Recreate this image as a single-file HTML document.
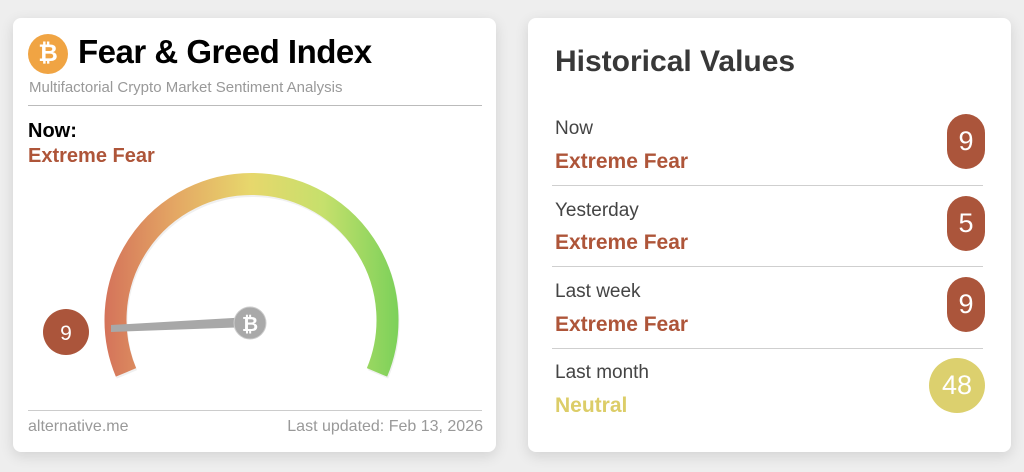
<!DOCTYPE html>
<html><head><meta charset="utf-8"><style>
*{margin:0;padding:0;box-sizing:border-box}
body{width:1024px;height:472px;background:#eeeeee;font-family:"Liberation Sans",sans-serif;position:relative;overflow:hidden}
.card{position:absolute;top:18px;height:434px;width:483px;background:#fff;border-radius:8px;box-shadow:0 4px 14px rgba(0,0,0,.12)}
.a{position:absolute;white-space:nowrap}
.pill{position:absolute;background:#ab553b;color:#fff;border-radius:19px;width:38px;height:55px;font-size:27px;text-align:center;line-height:55px}
.lab{font-size:19px;color:#444}
.val{font-size:21px;font-weight:bold;color:#ae5539}
.hr{position:absolute;height:1px;background:#cfcfcf}
</style></head><body>
<div class="card" style="left:13px">
  <div class="a" style="left:15px;top:16px;width:40px;height:40px;border-radius:50%;background:#f0a443;color:#fff;font-size:24px;font-weight:bold;text-align:center;line-height:40px">₿</div>
  <div class="a" style="left:65px;top:15px;font-size:33px;font-weight:bold;color:#000;letter-spacing:-0.5px">Fear &amp; Greed Index</div>
  <div class="a" style="left:16px;top:61px;font-size:15px;color:#999">Multifactorial Crypto Market Sentiment Analysis</div>
  <div class="hr" style="left:15px;top:87px;width:454px;background:#bbb"></div>
  <div class="a" style="left:15px;top:102px;font-size:20px;font-weight:bold;color:#000">Now:</div>
  <div class="a" style="left:15px;top:127px;font-size:20px;font-weight:bold;color:#ae5539">Extreme Fear</div>
  <div class="hr" style="left:15px;top:392px;width:454px;background:#ccc"></div>
  <div class="a" style="left:15px;top:400px;font-size:16px;color:#999">alternative.me</div>
  <div class="a" style="right:13px;top:400px;font-size:16px;color:#999">Last updated: Feb 13, 2026</div>
</div>
<svg class="a" style="left:0;top:0" width="512" height="472">
  <defs>
    <linearGradient id="g" x1="103" y1="0" x2="397" y2="0" gradientUnits="userSpaceOnUse">
      <stop offset="0" stop-color="#d4725a"/>
      <stop offset="0.25" stop-color="#e4a864"/>
      <stop offset="0.5" stop-color="#e7d76c"/>
      <stop offset="0.75" stop-color="#c6e06c"/>
      <stop offset="1" stop-color="#7dd15a"/>
    </linearGradient>
  </defs>
  <path d="M 126.0 372.4 A 136 136 0 1 1 377.0 372.4" fill="none" stroke="#000" stroke-opacity="0.06" stroke-width="22" transform="translate(1,2)"/>
  <path d="M 126.0 372.4 A 136 136 0 1 1 377.0 372.4" fill="none" stroke="url(#g)" stroke-width="22"/>
  <polygon points="111,325 250,317 250,327 111,332" fill="#a8a8a8"/>
  <circle cx="250" cy="323" r="16" fill="#a9a9a9" stroke="#ccc" stroke-width="1"/>
  <text x="250" y="331" text-anchor="middle" font-family="Liberation Sans" font-weight="bold" font-size="20" fill="#fff">₿</text>
  <circle cx="66" cy="332" r="23" fill="#ab553b"/>
  <text x="66" y="340" text-anchor="middle" font-family="Liberation Sans" font-size="21" fill="#fff">9</text>
</svg>
<div class="card" style="left:528px">
  <div class="a" style="left:27px;top:27px;font-size:30px;font-weight:bold;color:#383838">Historical Values</div>
  <div class="a lab" style="left:27px;top:100px">Now</div>
  <div class="a val" style="left:27px;top:132px">Extreme Fear</div>
  <div class="pill" style="left:419px;top:96px">9</div>
  <div class="hr" style="left:24px;top:167px;width:431px"></div>
  <div class="a lab" style="left:27px;top:182px">Yesterday</div>
  <div class="a val" style="left:27px;top:213px">Extreme Fear</div>
  <div class="pill" style="left:419px;top:178px">5</div>
  <div class="hr" style="left:24px;top:248px;width:431px"></div>
  <div class="a lab" style="left:27px;top:263px">Last week</div>
  <div class="a val" style="left:27px;top:295px">Extreme Fear</div>
  <div class="pill" style="left:419px;top:259px">9</div>
  <div class="hr" style="left:24px;top:330px;width:431px"></div>
  <div class="a lab" style="left:27px;top:344px">Last month</div>
  <div class="a val" style="left:27px;top:376px;color:#dccd68">Neutral</div>
  <div class="pill" style="left:401px;top:340px;width:56px;height:55px;border-radius:50%;background:#dcd06e">48</div>
</div>
</body></html>
